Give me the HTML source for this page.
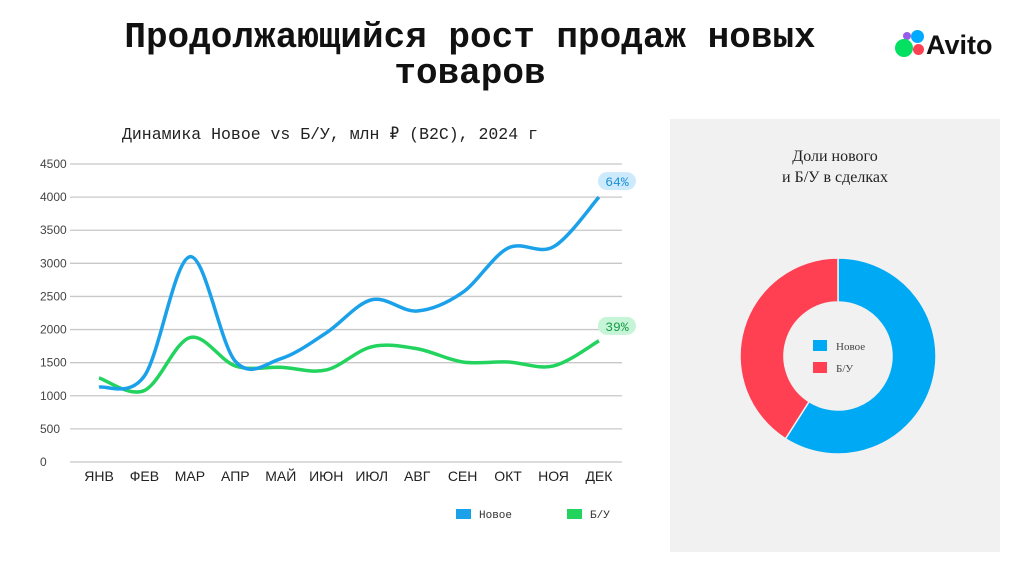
<!DOCTYPE html>
<html><head><meta charset="utf-8">
<style>
body{margin:0;width:1024px;height:574px;background:#fff;overflow:hidden;position:relative;font-family:"Liberation Sans","Noto Sans CJK SC",sans-serif}
.title{position:absolute;left:60px;top:20px;width:820px;text-align:center;font-family:"Liberation Mono","DejaVu Sans Mono",monospace;font-weight:bold;font-size:36px;line-height:36px;color:#111;white-space:nowrap}
.sub{position:absolute;left:122px;top:124px;font-family:"Liberation Mono",monospace;font-size:16.5px;color:#222;white-space:nowrap}
.panel{position:absolute;left:670px;top:119px;width:330px;height:433px;background:#f1f1f1}
.ptitle{position:absolute;left:670px;top:146px;width:330px;text-align:center;font-family:"Liberation Serif",serif;font-size:16px;line-height:21px;color:#222}
svg{position:absolute;left:0;top:0}
</style></head><body>
<div class="title">Продолжающийся рост продаж новых<br>товаров</div>
<div style="position:absolute;left:894px;top:30px;width:115px;height:32px">
<div style="position:absolute;left:9px;top:2px;width:8px;height:8px;border-radius:50%;background:#965eeb"></div>
<div style="position:absolute;left:17px;top:0px;width:13px;height:13px;border-radius:50%;background:#0af"></div>
<div style="position:absolute;left:1px;top:9px;width:18px;height:18px;border-radius:50%;background:#04e061"></div>
<div style="position:absolute;left:19px;top:14px;width:11px;height:11px;border-radius:50%;background:#ff4053"></div>
<div style="position:absolute;left:32px;top:0;font-weight:bold;font-size:27px;color:#111;line-height:30px">Avito</div>
</div>
<div class="sub">Динамика Новое vs Б/У, млн ₽ (B2C), 2024 г</div>
<div class="panel"></div>
<div class="ptitle">Доли нового<br>и Б/У в сделках</div>
<svg id="c" width="1024" height="574"></svg>
<script>
const months=["ЯНВ","ФЕВ","МАР","АПР","МАЙ","ИЮН","ИЮЛ","АВГ","СЕН","ОКТ","НОЯ","ДЕК"];
const newVals=[1130,1300,3100,1520,1560,1950,2450,2280,2560,3230,3250,4000];
const usedVals=[1270,1080,1880,1450,1430,1390,1740,1710,1510,1510,1450,1830];
const yTicks=[0,500,1000,1500,2000,2500,3000,3500,4000,4500];
const endLabels=["64%","39%"];
const shares=[59,41];
const shareNames=["Новое","Б/У"];

const NS="http://www.w3.org/2000/svg",svg=document.getElementById("c");
function el(t,a,p){const e=document.createElementNS(NS,t);for(const k in a)e.setAttribute(k,a[k]);(p||svg).appendChild(e);return e;}
const X=i=>99+i*45.45, Y=v=>462-v*(298/4500);
yTicks.forEach(t=>{
 const l=el("line",{x1:70,x2:622,y1:Y(t),y2:Y(t),stroke:"#c8c8c8","stroke-width":1.3});
 
 
 const tx=el("text",{x:40,y:Y(t)+4,"font-size":12,fill:"#444","font-family":"Liberation Sans"});tx.textContent=t;
 
 
});
months.forEach((m,i)=>{
 const tx=el("text",{x:X(i),y:481,"font-size":14,fill:"#222","text-anchor":"middle","font-family":"Liberation Sans"});tx.textContent=m;
 
 
});
function path(vals){
 const p=vals.map((v,i)=>[X(i),Y(v)]);let d="M"+p[0];
 for(let i=0;i<p.length-1;i++){const a=p[i-1]||p[i],b=p[i],c=p[i+1],e=p[i+2]||c;
  d+=" C"+(b[0]+(c[0]-a[0])/6)+","+(b[1]+(c[1]-a[1])/6)+" "+(c[0]-(e[0]-b[0])/6)+","+(c[1]-(e[1]-b[1])/6)+" "+c;}
 return d;}
const lu=el("path",{d:path(usedVals),fill:"none",stroke:"#22d35e","stroke-width":3.5});


const ln=el("path",{d:path(newVals),fill:"none",stroke:"#1ba1ea","stroke-width":3.5});


[[newVals,"#cdeafc","#1b8fd6",-16],[usedVals,"#c5f5d6","#179a45",-15]].forEach((s,k)=>{
 const v=s[0][11],cx=X(11)+18,cy=Y(v)+s[3];
 const r=el("rect",{x:cx-19,y:cy-9,width:38,height:18,rx:9,fill:s[1]});
 
 
 const t=el("text",{x:cx,y:cy+5,"font-size":13,fill:s[2],"text-anchor":"middle","font-family":"Liberation Mono"});t.textContent=endLabels[k];
 
 
});
[["Новое","#1ba1ea",456],["Б/У","#22d35e",567]].forEach(s=>{
 const r=el("rect",{x:s[2],y:509,width:15,height:10,fill:s[1]});
 
 
 const t=el("text",{x:s[2]+23,y:518,"font-size":11,fill:"#333","font-family":"Liberation Mono"});t.textContent=s[0];
 
 
});
// donut
const cx=838,cy=356,R=98,r0=54,cols=["#00a9f4","#ff4053"];let a0=0;
const tot=shares.reduce((a,b)=>a+b,0);
shares.forEach((s,i)=>{
 const a1=a0+s/tot*2*Math.PI;const P=(r,a)=>[cx+r*Math.sin(a),cy-r*Math.cos(a)];
 const lg=(a1-a0)>Math.PI?1:0;const o0=P(R,a0),o1=P(R,a1),i1=P(r0,a1),i0=P(r0,a0);
 const p=el("path",{d:`M${o0}A${R},${R} 0 ${lg} 1 ${o1}L${i1}A${r0},${r0} 0 ${lg} 0 ${i0}Z`,fill:cols[i],stroke:"#f1f1f1","stroke-width":1.5});
 
 
 a0=a1;
 const sw=el("rect",{x:813,y:340+i*22,width:14,height:11,fill:cols[i]});
 
 
 const t=el("text",{x:836,y:350+i*22,"font-size":11,fill:"#444","font-family":"Liberation Serif"});t.textContent=shareNames[i];
 
 
});
</script>
</body></html>
